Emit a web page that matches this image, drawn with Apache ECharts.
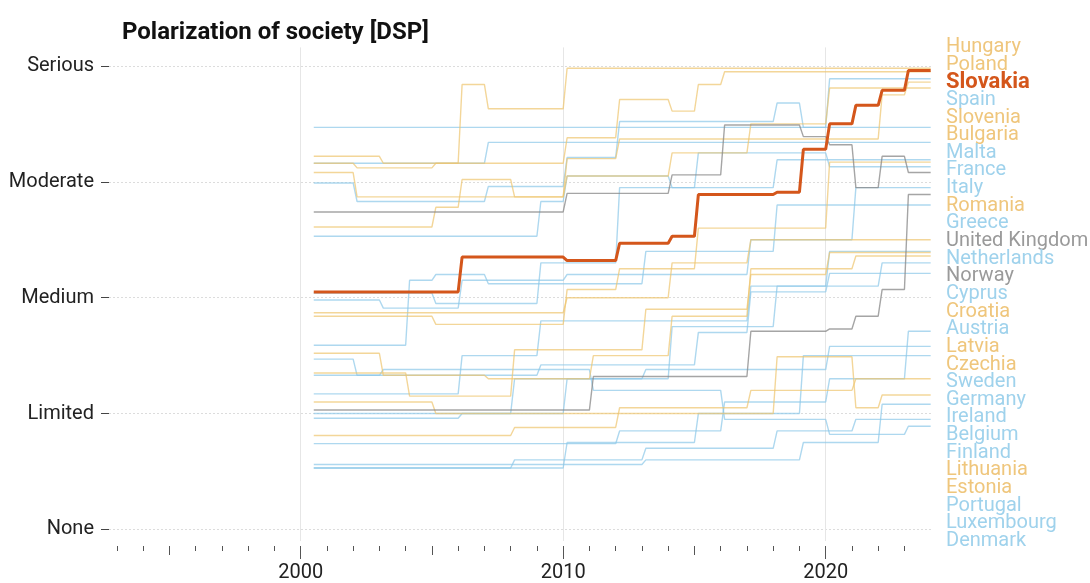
<!DOCTYPE html>
<html>
<head>
<meta charset="utf-8">
<script src="https://cdn.jsdelivr.net/npm/echarts@6/dist/echarts.min.js"></script>
<style>
html, body { margin: 0; padding: 0; background: #fff; }
#chart { width: 1090px; height: 583px; }
</style>
</head>
<body>
<div id="chart"></div>
<script>
// y levels of the DSP indicator
const levels = ['None', 'Limited', 'Medium', 'Moderate', 'Serious']
const firstYear = 2000

// x axis ticks
const minorYears = [1993, 1994, 1996, 1997, 1998, 1999, 2001, 2002, 2003, 2004, 2006, 2007, 2008, 2009,
  2011, 2012, 2013, 2014, 2016, 2017, 2018, 2019, 2021, 2022, 2023]
const midYears = [1995, 2005, 2015]
const majorYears = [2000, 2010, 2020]

// countries in label order, with colour group (y = east, b = west, g = non-EU, o = highlight)
const countries = ['Hungary', 'Poland', 'Slovakia', 'Spain', 'Slovenia', 'Bulgaria', 'Malta', 'France', 'Italy',
  'Romania', 'Greece', 'United Kingdom', 'Netherlands', 'Norway', 'Cyprus', 'Croatia', 'Austria', 'Latvia',
  'Czechia', 'Sweden', 'Germany', 'Ireland', 'Belgium', 'Finland', 'Lithuania', 'Estonia', 'Portugal',
  'Luxembourg', 'Denmark']
const groups = ['y', 'y', 'o', 'b', 'y', 'y', 'b', 'b', 'b', 'y', 'b', 'g', 'b', 'g', 'b', 'y', 'b', 'y',
  'y', 'b', 'b', 'b', 'b', 'b', 'y', 'y', 'b', 'b', 'b']

// yearly values 2000..2023 (0 = None ... 4 = Serious)
const hungary = [3.16, 3.16, 3.12, 3.12, 3.12, 3.16, 3.84, 3.63, 3.63, 3.63, 3.98, 3.98, 3.98, 3.98, 3.98, 3.98, 3.98, 3.98, 3.98, 3.98, 3.98, 3.98, 3.98, 3.98]
const poland = [3.22, 3.22, 3.22, 3.16, 3.16, 3.16, 3.16, 3.16, 3.16, 3.16, 3.38, 3.38, 3.71, 3.71, 3.61, 3.84, 3.95, 3.95, 3.95, 3.95, 3.95, 3.95, 3.95, 3.95]
const slovakia = [2.05, 2.05, 2.05, 2.05, 2.05, 2.05, 2.35, 2.35, 2.35, 2.35, 2.32, 2.32, 2.47, 2.47, 2.53, 2.89, 2.89, 2.89, 2.91, 3.28, 3.5, 3.66, 3.79, 3.96]
const spain = [2.99, 2.99, 2.83, 2.83, 2.83, 2.83, 2.83, 2.96, 2.96, 2.96, 3.21, 3.21, 3.52, 3.52, 3.52, 3.52, 3.52, 3.52, 3.68, 3.47, 3.89, 3.89, 3.89, 3.89]
const slovenia = [3.08, 3.08, 2.87, 2.87, 2.87, 2.87, 2.87, 2.87, 2.87, 2.87, 3.2, 3.2, 3.37, 3.37, 3.37, 3.37, 3.37, 3.37, 3.37, 3.37, 3.37, 3.37, 3.75, 3.86]
const bulgaria = [2.61, 2.61, 2.61, 2.61, 2.61, 2.78, 3.02, 3.02, 2.87, 2.87, 3.05, 3.05, 3.05, 3.05, 3.25, 3.25, 3.25, 3.5, 3.5, 3.5, 3.81, 3.81, 3.81, 3.81]
const malta = [3.47, 3.47, 3.47, 3.47, 3.47, 3.47, 3.47, 3.47, 3.47, 3.47, 3.47, 3.47, 3.47, 3.47, 3.47, 3.47, 3.47, 3.47, 3.47, 3.47, 3.47, 3.47, 3.47, 3.47]
const france = [3.16, 3.16, 3.16, 3.16, 3.16, 3.16, 3.16, 3.34, 3.34, 3.34, 3.34, 3.34, 3.34, 3.34, 3.34, 3.34, 3.34, 3.34, 3.34, 3.34, 3.34, 3.34, 3.34, 3.34]
const italy = [2.53, 2.53, 2.53, 2.53, 2.53, 2.53, 2.53, 2.53, 2.53, 2.83, 3.05, 3.05, 3.05, 3.05, 2.95, 2.95, 2.95, 2.95, 3.19, 3.19, 3.19, 3.19, 3.19, 3.19]
const romania = [1.84, 1.84, 1.84, 1.84, 1.84, 1.77, 1.77, 1.77, 1.77, 1.77, 2.07, 2.07, 2.25, 2.25, 2.25, 2.6, 2.6, 2.6, 2.6, 2.6, 3.17, 3.17, 3.17, 3.17]
const greece = [2.04, 2.04, 2.04, 2.04, 2.04, 1.95, 1.95, 1.95, 1.95, 2.3, 2.3, 2.3, 2.95, 2.95, 2.95, 3.25, 3.25, 3.25, 3.25, 3.25, 3.13, 3.13, 3.13, 3.13]
const unitedKingdom = [2.74, 2.74, 2.74, 2.74, 2.74, 2.74, 2.74, 2.74, 2.74, 2.74, 2.9, 2.9, 2.9, 2.9, 3.06, 3.06, 3.49, 3.49, 3.49, 3.39, 3.32, 2.95, 3.22, 3.08]
const netherlands = [1.98, 1.98, 1.98, 1.91, 1.91, 1.91, 2.15, 2.15, 2.15, 2.15, 2.2, 2.2, 2.2, 2.2, 2.2, 2.2, 2.2, 2.5, 2.5, 2.5, 2.5, 2.95, 2.95, 2.95]
const norway = [1.03, 1.03, 1.03, 1.03, 1.03, 1.03, 1.03, 1.03, 1.03, 1.03, 1.03, 1.32, 1.32, 1.32, 1.32, 1.32, 1.32, 1.71, 1.71, 1.71, 1.73, 1.84, 2.07, 2.89]
const cyprus = [1.59, 1.59, 1.59, 1.59, 2.15, 2.2, 2.2, 2.12, 2.12, 2.12, 2.12, 2.12, 2.12, 2.4, 2.4, 2.4, 2.4, 2.4, 2.8, 2.8, 2.8, 2.8, 2.8, 2.8]
const croatia = [1.87, 1.87, 1.87, 1.87, 1.87, 1.87, 1.87, 1.87, 1.87, 1.87, 2.0, 2.0, 2.0, 2.0, 2.3, 2.3, 2.3, 2.5, 2.5, 2.5, 2.5, 2.5, 2.5, 2.5]
const austria = [1.17, 1.17, 1.17, 1.17, 1.17, 1.17, 1.5, 1.5, 1.5, 1.8, 1.8, 1.8, 1.8, 1.8, 1.8, 1.8, 1.8, 2.1, 2.1, 2.1, 2.4, 2.4, 2.4, 2.4]
const latvia = [1.35, 1.35, 1.35, 1.35, 1.15, 1.15, 1.15, 1.15, 1.55, 1.55, 1.55, 1.55, 1.55, 1.9, 1.9, 1.9, 1.9, 2.2, 2.2, 2.2, 2.39, 2.39, 2.39, 2.39]
const czechia = [1.52, 1.52, 1.52, 1.33, 1.33, 1.33, 1.33, 1.3, 1.3, 1.3, 1.3, 1.5, 1.5, 1.5, 1.84, 1.84, 1.84, 2.25, 2.25, 2.25, 2.25, 2.36, 2.36, 2.36]
const sweden = [0.96, 0.96, 0.96, 0.96, 0.96, 0.96, 1.0, 1.0, 1.0, 1.0, 1.3, 1.3, 1.3, 1.3, 1.75, 1.75, 1.75, 1.75, 2.1, 2.1, 2.1, 2.1, 2.3, 2.3]
const germany = [1.47, 1.47, 1.33, 1.33, 1.33, 1.33, 1.33, 1.33, 1.33, 1.42, 1.42, 1.42, 1.42, 1.42, 1.42, 1.7, 1.7, 2.05, 2.05, 2.05, 2.21, 2.21, 2.21, 2.21]
const ireland = [0.74, 0.74, 0.74, 0.74, 0.74, 0.74, 0.74, 0.74, 0.74, 0.74, 0.74, 0.74, 0.85, 0.85, 0.85, 0.85, 1.1, 1.1, 1.1, 1.1, 1.3, 1.3, 1.3, 1.71]
const belgium = [1.0, 1.0, 1.0, 1.0, 1.0, 1.0, 1.0, 1.0, 1.3, 1.3, 1.3, 1.3, 1.3, 1.38, 1.38, 1.38, 1.38, 1.38, 1.38, 1.38, 1.58, 1.58, 1.58, 1.58]
const finland = [0.53, 0.53, 0.53, 0.53, 0.53, 0.53, 0.53, 0.53, 0.53, 0.53, 0.75, 0.75, 0.75, 0.75, 0.75, 1.0, 1.0, 1.0, 1.0, 1.5, 1.5, 1.5, 1.5, 1.5]
const lithuania = [0.81, 0.81, 0.81, 0.81, 0.81, 0.81, 0.81, 0.81, 0.88, 0.88, 0.88, 0.88, 1.05, 1.05, 1.05, 1.05, 1.05, 1.2, 1.2, 1.2, 1.2, 1.3, 1.3, 1.3]
const estonia = [1.1, 1.1, 1.1, 1.1, 1.1, 1.0, 1.0, 1.0, 1.0, 1.0, 1.0, 1.0, 1.0, 1.0, 1.0, 1.0, 1.0, 1.0, 1.49, 1.49, 1.49, 1.05, 1.16, 1.16]
const portugal = [0.56, 0.56, 0.56, 0.56, 0.56, 0.56, 0.56, 0.56, 0.56, 0.56, 0.56, 0.56, 0.56, 0.6, 0.6, 0.6, 0.6, 0.6, 0.6, 0.75, 0.75, 0.75, 1.08, 1.08]
const luxembourg = [0.53, 0.53, 0.53, 0.53, 0.53, 0.53, 0.53, 0.53, 0.6, 0.6, 0.6, 0.6, 0.6, 0.7, 0.7, 0.7, 0.7, 0.7, 0.85, 0.85, 0.85, 0.95, 0.95, 0.95]
const denmark = [1.33, 1.33, 1.33, 1.38, 1.38, 1.38, 1.38, 1.38, 1.38, 1.38, 1.38, 1.2, 1.2, 1.2, 1.2, 1.2, 0.95, 0.95, 0.95, 0.95, 0.82, 0.82, 0.82, 0.89]

const values = [hungary, poland, slovakia, spain, slovenia, bulgaria, malta, france, italy, romania, greece,
  unitedKingdom, netherlands, norway, cyprus, croatia, austria, latvia, czechia, sweden, germany, ireland,
  belgium, finland, lithuania, estonia, portugal, luxembourg, denmark]

const lineColors = { y: 'rgba(238,196,110,0.7)', b: 'rgba(140,200,232,0.7)', g: 'rgba(135,135,135,0.75)', o: '#d4561b' }
const textColors = { y: '#efc67c', b: '#9fd2ec', g: '#9a9a9a', o: '#d4561b' }
const drawOrder = { b: 0, y: 1, g: 2, o: 3 }
const FONT = 'Roboto, "Liberation Sans", sans-serif'

// each year's value holds from just after the year start to the next year
function steps (vals) {
  const pts = [[firstYear + 0.5, vals[0]], [firstYear + 1, vals[0]]]
  for (let i = 1; i < vals.length; i++) {
    pts.push([firstYear + i + 0.15, vals[i]])
    pts.push([firstYear + i + 1, vals[i]])
  }
  return pts
}

const idx = countries.map((c, i) => i).sort((a, b) => drawOrder[groups[a]] - drawOrder[groups[b]])
const series = idx.map(i => ({
  name: countries[i],
  type: 'line',
  data: steps(values[i]),
  showSymbol: false,
  symbol: 'none',
  silent: true,
  z: 2 + drawOrder[groups[i]],
  lineStyle: {
    color: lineColors[groups[i]],
    width: groups[i] === 'o' ? 3 : 1.4
  }
}))

const labels = countries.map((c, i) => ({
  type: 'text',
  x: 946,
  y: 47 + i * 17.64,
  style: {
    text: c,
    fill: textColors[groups[i]],
    font: groups[i] === 'o' ? 'bold 22px ' + FONT : '20px ' + FONT,
    verticalAlign: 'middle'
  }
}))

function xAxisWith (ticks, len, extra) {
  return Object.assign({
    type: 'value',
    min: 1992.7,
    max: 2024.05,
    position: 'bottom',
    offset: 5,
    axisLine: { show: false, onZero: false },
    axisTick: { show: true, length: len, customValues: ticks, lineStyle: { color: '#555', width: 1 } },
    axisLabel: { show: false },
    splitLine: { show: false }
  }, extra || {})
}

const myChart = echarts.init(document.getElementById('chart'))
const option = {
  animation: false,
  backgroundColor: '#fff',
  title: {
    text: 'Polarization of society [DSP]',
    left: 117,
    top: 16,
    textStyle: { fontFamily: FONT, fontWeight: 'bold', fontSize: 24, color: '#111' }
  },
  grid: { left: 109, right: 158, top: 47.4, bottom: 41.4 },
  xAxis: [
    xAxisWith(minorYears, 5),
    xAxisWith(midYears, 9),
    xAxisWith(majorYears, 13, {
      axisLabel: {
        show: true,
        customValues: majorYears,
        formatter: v => String(v),
        margin: 17,
        fontSize: 20,
        fontFamily: FONT,
        color: '#222'
      },
      splitLine: { show: true, lineStyle: { color: '#e6e6e6', width: 1 } }
    })
  ],
  yAxis: {
    type: 'value',
    min: -0.1,
    max: 4.16,
    axisLine: { show: false },
    axisTick: { show: true, length: 8, customValues: [0, 1, 2, 3, 4], lineStyle: { color: '#444' } },
    axisLabel: {
      customValues: [0, 1, 2, 3, 4],
      formatter: v => levels[Math.round(v)],
      margin: 15,
      fontSize: 20,
      fontFamily: FONT,
      color: '#222'
    },
    splitLine: { show: true, lineStyle: { color: '#dcdcdc', type: [2, 2], width: 1 } }
  },
  graphic: labels,
  series: series
}
myChart.setOption(option)
</script>
</body>
</html>
